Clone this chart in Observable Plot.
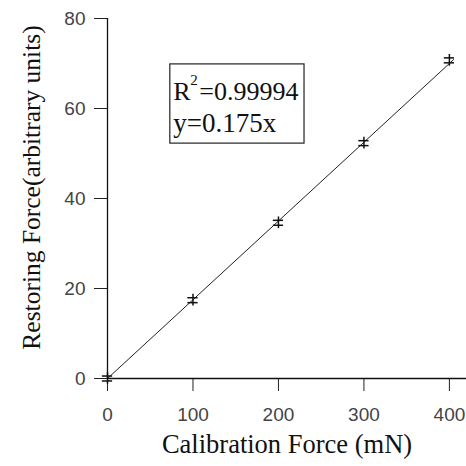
<!DOCTYPE html>
<html><head><meta charset="utf-8">
<script src="https://cdn.jsdelivr.net/npm/d3@7"></script>
<script src="https://cdn.jsdelivr.net/npm/@observablehq/plot@0.6"></script>
<style>
html,body{margin:0;padding:0;background:#fff;}
</style>
</head><body>
<div id="chart"></div>
<script>
// Data
const calibrationForce = [0, 100, 200, 300, 400];          // mN
const restoringForce   = [0, 17.4, 34.6, 52.3, 70.7];      // arbitrary units
const xTicks = [0, 100, 200, 300, 400];
const yTicks = [0, 20, 40, 60, 80];
const fitSlope = 0.175;
const fitRange = [0, 405];
const annotationLines = ["R", "y=0.175x"];
const rSquared = "0.99994";
// annotation box (data units)
const boxX = [73.5, 230.5];
const boxY = [52.2, 69.8];

const points = calibrationForce.map((x, i) => ({x, y: restoringForce[i]}));
const fit = fitRange.map(x => ({x, y: fitSlope * x}));

const serif = "'Liberation Serif','Times New Roman',serif";
const sans = "'Liberation Sans',Arial,sans-serif";

const plot = Plot.plot({
  width: 466,
  height: 466,
  marginLeft: 107,
  marginRight: 0,
  marginTop: 18,
  marginBottom: 88,
  style: {fontFamily: sans, background: "#fff", color: "#222"},
  x: {domain: [0, 420], axis: null},
  y: {domain: [0, 80], axis: null},
  marks: [
    Plot.axisX({ticks: xTicks, tickSize: 13, tickPadding: 16, fontSize: 19, stroke: "#222", fill: "#444", label: null, tickFormat: d => String(d)}),
    Plot.axisY({ticks: yTicks, tickSize: 13, tickPadding: 9, fontSize: 19, stroke: "#222", fill: "#444", label: null, tickFormat: d => String(d)}),
    Plot.ruleY([0], {stroke: "#111", strokeWidth: 1.3}),
    Plot.ruleX([0], {y1: 0, y2: 80, stroke: "#111", strokeWidth: 1.3}),
    Plot.line(fit, {x: "x", y: "y", stroke: "#222", strokeWidth: 1}),
    // markers: vertical bar with two caps
    Plot.ruleX(points, {x: "x", y1: d => d.y - 1.3, y2: d => d.y + 1.3, stroke: "#111", strokeWidth: 1.5}),
    Plot.ruleY(points, {y: d => d.y - 0.55, x1: d => d.x - 6, x2: d => d.x + 6, stroke: "#111", strokeWidth: 1.5}),
    Plot.ruleY(points, {y: d => d.y + 0.55, x1: d => d.x - 6, x2: d => d.x + 6, stroke: "#111", strokeWidth: 1.5}),
    // annotation box
    Plot.rect([{x1: boxX[0], x2: boxX[1], y1: boxY[0], y2: boxY[1]}], {x1: "x1", x2: "x2", y1: "y1", y2: "y2", fill: "white", stroke: "#222", strokeWidth: 1.2}),
    Plot.text([0], {x: boxX[0], y: boxY[1], dx: 3, dy: 36, text: () => "R", textAnchor: "start", lineAnchor: "bottom", fontFamily: serif, fontSize: 26, fill: "#111"}),
    Plot.text([0], {x: boxX[0], y: boxY[1], dx: 20, dy: 21, text: () => "2", textAnchor: "start", lineAnchor: "bottom", fontFamily: serif, fontSize: 15, fill: "#111"}),
    Plot.text([0], {x: boxX[0], y: boxY[1], dx: 29, dy: 36, text: () => "=" + rSquared, textAnchor: "start", lineAnchor: "bottom", fontFamily: serif, fontSize: 26, fill: "#111"}),
    Plot.text([0], {x: boxX[0], y: boxY[1], dx: 3, dy: 68, text: () => annotationLines[1], textAnchor: "start", lineAnchor: "bottom", fontFamily: serif, fontSize: 27, fill: "#111"}),
    // axis titles
    Plot.text(["Calibration Force (mN)"], {frameAnchor: "bottom", dy: 74, text: d => d, textAnchor: "middle", fontFamily: serif, fontSize: 26.5, fill: "#111", lineAnchor: "bottom"}),
    Plot.text(["Restoring Force(arbitrary units)"], {frameAnchor: "left", dx: -68, dy: -11, rotate: -90, text: d => d, textAnchor: "middle", fontFamily: serif, fontSize: 25.5, fill: "#111", lineAnchor: "bottom"})
  ]
});
document.getElementById("chart").appendChild(plot);
</script>
</body></html>
